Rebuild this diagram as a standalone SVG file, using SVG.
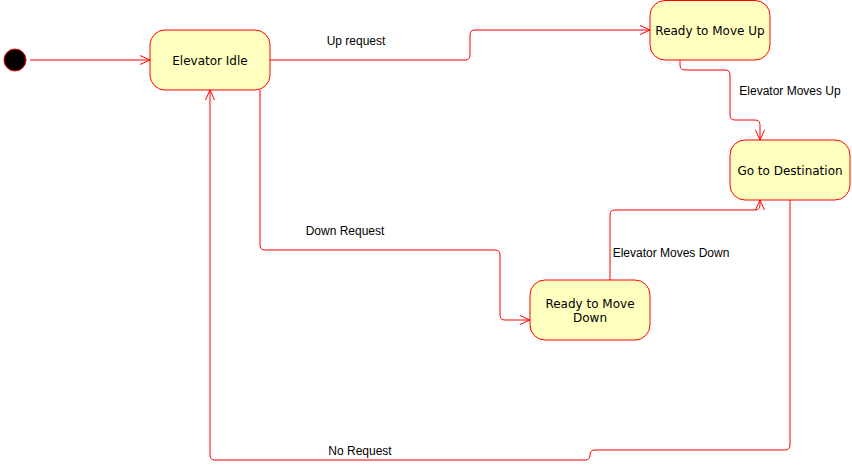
<svg xmlns="http://www.w3.org/2000/svg" width="852" height="472" viewBox="0 0 852 472">
<style>
.node rect{fill:#FFFFC0;stroke:#FF0000;stroke-width:1}
.node text{font-family:"DejaVu Sans",Verdana,sans-serif;font-size:12px;fill:#000;text-anchor:middle}
.edge{fill:none;stroke:#FF0000;stroke-width:1;marker-end:url(#arr)}
.lbl{font-family:"Liberation Sans",Arial,sans-serif;font-size:12px;fill:#000;text-anchor:middle}
</style>
<defs>
<marker id="arr" viewBox="0 0 10 10" refX="10" refY="5" markerWidth="10" markerHeight="10" markerUnits="userSpaceOnUse" orient="auto">
<path d="M0 0.5 L10 5 L0 9.5" fill="none" stroke="#FF0000" stroke-width="1"/>
</marker>
</defs>
<rect width="852" height="472" fill="#fff"/>
<g id="connectors">
<path class="edge" d="M30 60 H150"/>
<path class="edge" d="M270 60 H465 Q470 60 470 55 V35 Q470 30 475 30 H650"/>
<path class="edge" d="M680 60 V65 Q680 70 685 70 H725 Q730 70 730 75 V115 Q730 120 735 120 H755 Q760 120 760 125 V140"/>
<path class="edge" d="M260 90 V245 Q260 250 265 250 H495 Q500 250 500 255 V315 Q500 320 505 320 H530"/>
<path class="edge" d="M610 280 V215 Q610 210 615 210 H755 Q760 210 760 205 V200"/>
<path class="edge" d="M790 200 V445 Q790 450 785 450 H595 Q590 450 590 455 Q590 460 585 460 H215 Q210 460 210 455 V90"/>
<text class="lbl" x="356" y="45">Up request</text>
<text class="lbl" x="790" y="95">Elevator Moves Up</text>
<text class="lbl" x="345" y="235">Down Request</text>
<text class="lbl" x="671" y="257">Elevator Moves Down</text>
<text class="lbl" x="360" y="455">No Request</text>
</g>
<g id="start"><circle cx="15" cy="60" r="11" fill="#000" stroke="#FF0000" stroke-width="1"/></g>
<g id="idle" class="node"><rect x="150" y="30" width="120" height="60" rx="15"/><text x="210" y="65">Elevator Idle</text></g>
<g id="up" class="node"><rect x="650" y="0.5" width="120" height="59.5" rx="15"/><text x="710" y="35">Ready to Move Up</text></g>
<g id="dest" class="node"><rect x="730" y="140" width="120" height="60" rx="15"/><text x="790" y="175">Go to Destination</text></g>
<g id="down" class="node"><rect x="530" y="280" width="120" height="60" rx="15"/><text x="590" y="308">Ready to Move</text><text x="590" y="322">Down</text></g>
</svg>
